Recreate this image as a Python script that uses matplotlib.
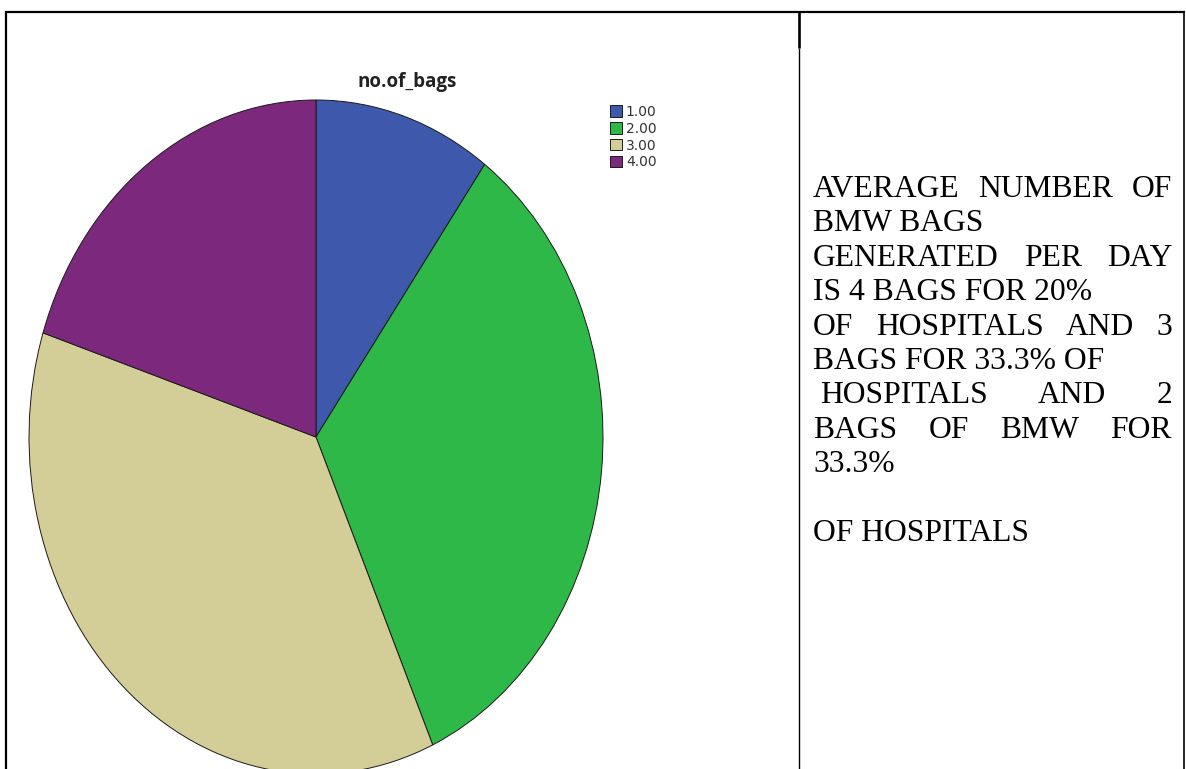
import matplotlib
matplotlib.use("Agg")
import matplotlib.pyplot as plt

# -------------------------------
# Data: number of BMW bags generated per day (counts of hospitals)
# -------------------------------
bag_levels = ["1.00", "2.00", "3.00", "4.00"]
hospital_counts = [3, 10, 11, 6]
slice_colors = ["#3E58AC", "#2EB848", "#D3CE97", "#7C287D"]

chart_title = "no.of_bags"

# right-hand cell text, one entry per printed line (justified lines marked True)
note_lines = [
    ("AVERAGE NUMBER OF", True),
    ("BMW BAGS", False),
    ("GENERATED PER DAY", True),
    ("IS 4 BAGS FOR 20%", False),
    ("OF HOSPITALS AND 3", True),
    ("BAGS FOR 33.3% OF", False),
    (" HOSPITALS AND 2", True),
    ("BAGS OF BMW FOR", True),
    ("33.3%", False),
    ("", False),
    ("OF HOSPITALS", False),
]

W, H = 1186, 769
fig = plt.figure(figsize=(W / 100, H / 100), dpi=100)

# overlay axes in pixel units for the table borders and text
frame = fig.add_axes([0, 0, 1, 1])
frame.set_xlim(0, W)
frame.set_ylim(H, 0)
frame.axis("off")

# -------------------------------
# Pie chart (elliptical, as exported)
# -------------------------------
cx, cy, rx, ry = 316, 437, 287, 337
pie_ax = fig.add_axes([(cx - rx) / W, 1 - (cy + ry) / H, 2 * rx / W, 2 * ry / H])
wedges, _ = pie_ax.pie(hospital_counts, colors=slice_colors, startangle=90,
                       counterclock=False,
                       wedgeprops=dict(edgecolor="#1a1a1a", linewidth=0.7))
pie_ax.set_aspect("auto")
pie_ax.set_xlim(-1, 1)
pie_ax.set_ylim(-1, 1)
pie_ax.axis("off")

frame.text(407, 87, chart_title, ha="center", va="baseline",
           fontsize=13.5, fontweight="bold", family="Open Sans", color="#222222")

leg = fig.legend(wedges, bag_levels, loc="upper left",
                 bbox_to_anchor=(603 / W, 1 - 98 / H), frameon=False,
                 fontsize=10, handlelength=0.9, handleheight=0.9,
                 handletextpad=0.25, labelspacing=0.2, borderpad=0)
for t in leg.get_texts():
    t.set_color("#333333")

# -------------------------------
# Table borders
# -------------------------------
frame.plot([5, 1185], [12, 12], color="black", lw=1.6, solid_capstyle="butt")
frame.plot([5.5, 5.5], [11, H], color="black", lw=1.6, solid_capstyle="butt")
frame.plot([799, 799], [11, 48], color="black", lw=1.9, solid_capstyle="butt")
frame.plot([799, 799], [48, H], color="black", lw=1.0, solid_capstyle="butt")
frame.plot([1184, 1184], [11, H], color="black", lw=1.2, solid_capstyle="butt")

# -------------------------------
# Notes text, with justified lines
# -------------------------------
renderer = fig.canvas.get_renderer()
text_kw = dict(fontsize=22.8, family="Liberation Serif", va="baseline", color="black")
x_left, x_right = 813, 1172
baseline = 197
for line, justify in note_lines:
    if line:
        x0 = x_left + (7 if line.startswith(" ") else 0)
        words = line.split()
        if justify and len(words) > 1:
            items = [frame.text(x0, baseline, w, ha="left", **text_kw) for w in words]
            widths = [it.get_window_extent(renderer).width for it in items]
            gap = (x_right - x0 - sum(widths)) / (len(words) - 1)
            x = x0
            for it, wd in zip(items, widths):
                it.set_x(x)
                x += wd + gap
        else:
            frame.text(x0, baseline, line.strip(), ha="left", **text_kw)
    baseline += 34.4

fig.savefig("out.png", dpi=100)
